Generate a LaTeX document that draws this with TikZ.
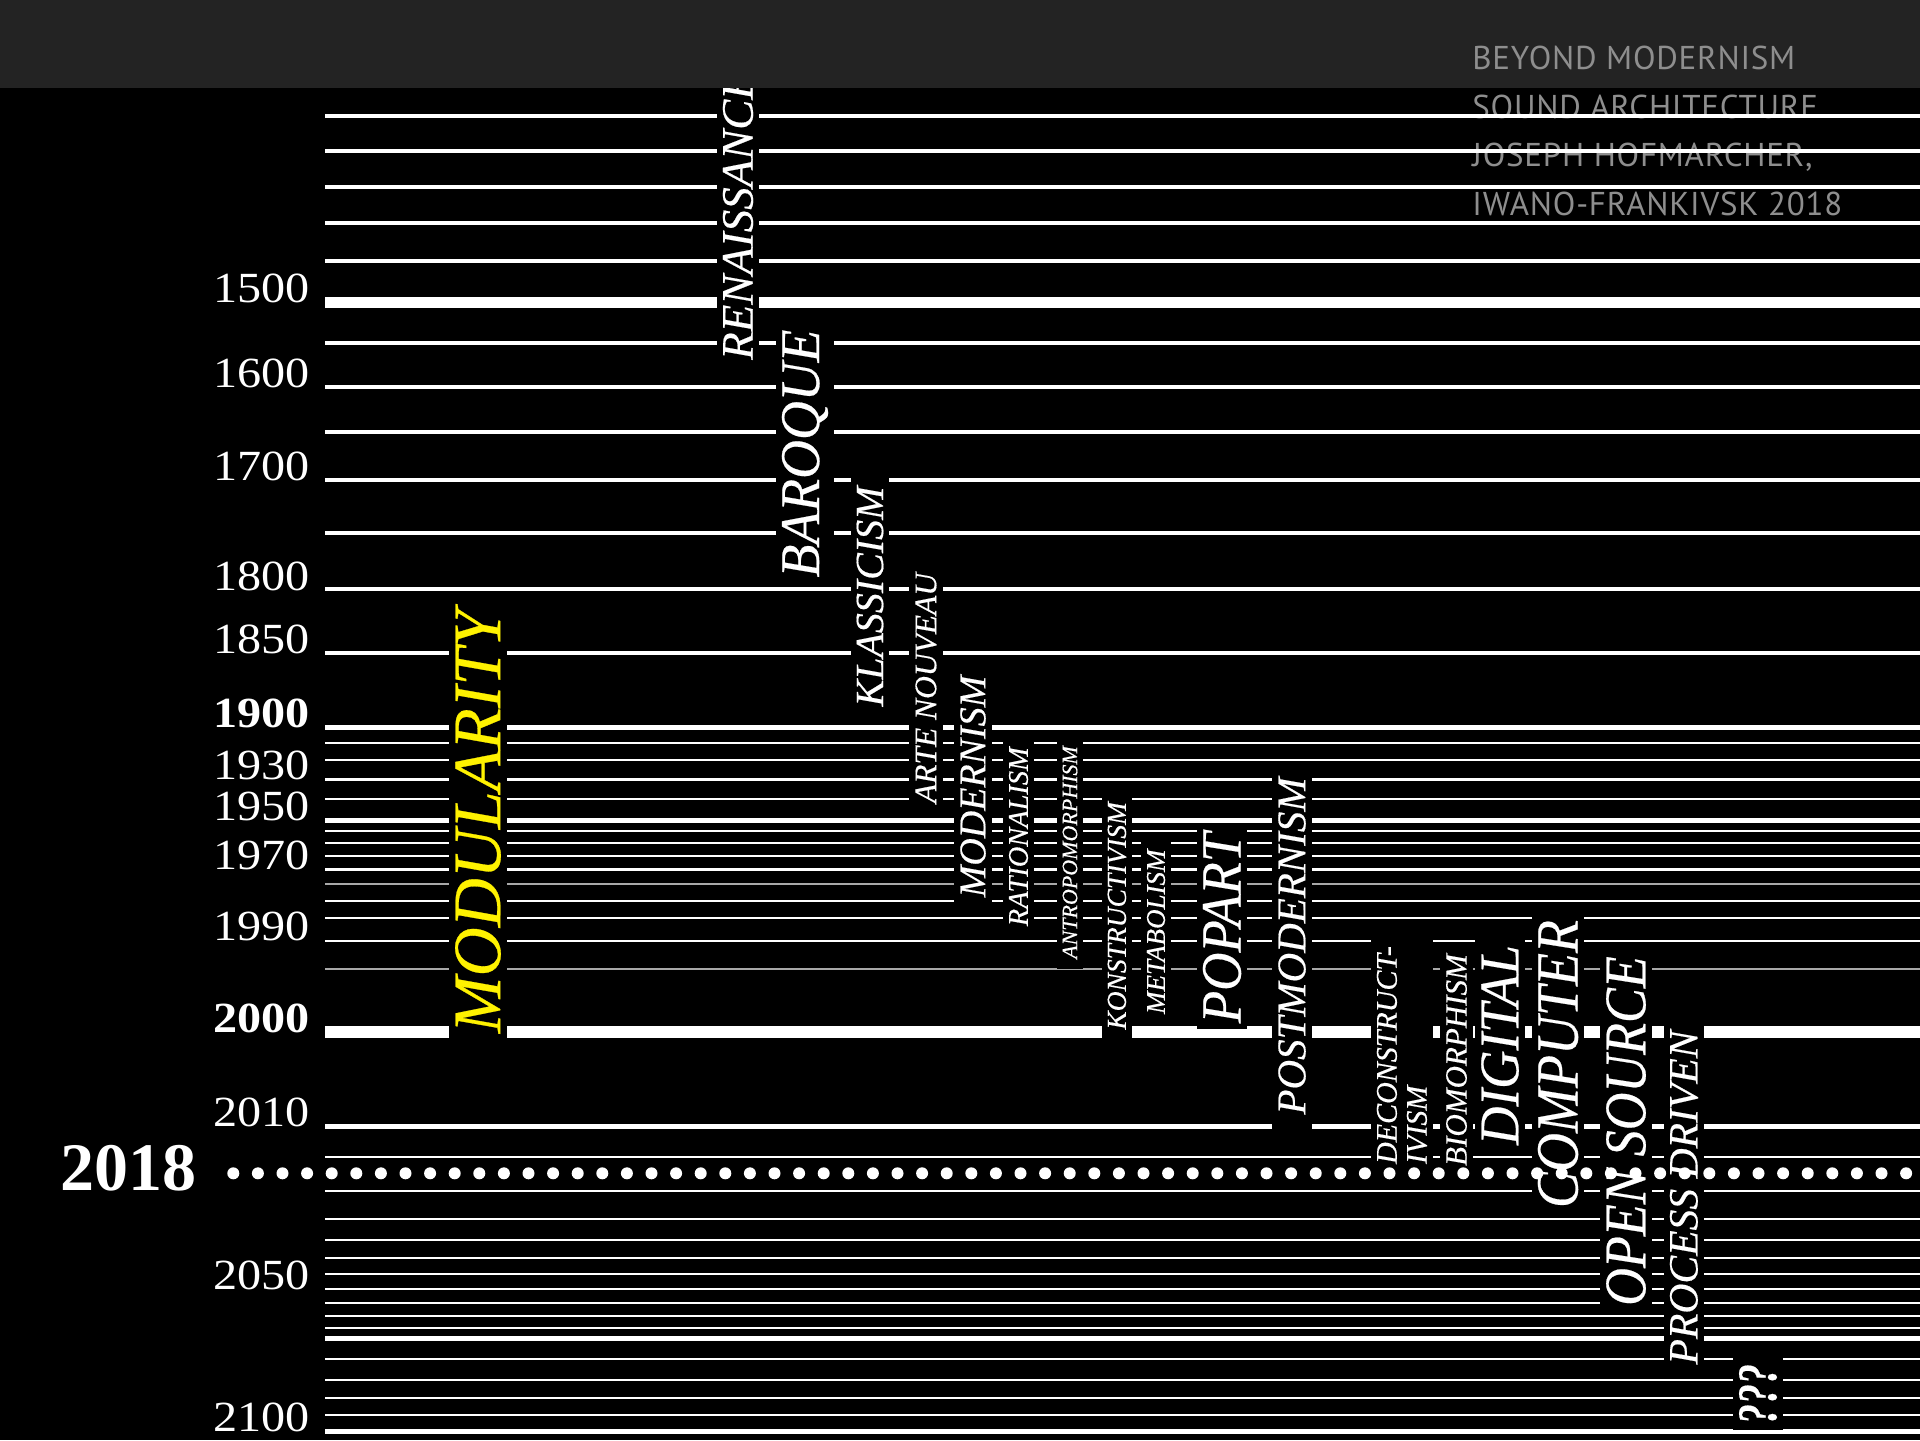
\documentclass[tikz,border=0pt]{standalone}
\usepackage{fontspec}
\setmainfont{Liberation Serif}
\newfontfamily\creditfont[LetterSpace=2.3]{PT Sans}
\newfontfamily\yearfont[FakeStretch=1.12]{Liberation Serif}
\newfontfamily\erafont[FakeBold=0.4]{Liberation Serif}
\usetikzlibrary{positioning}
\usepackage{xcolor}
\definecolor{TopBar}{HTML}{232323}
\definecolor{Credit}{HTML}{8E8E8E}
\definecolor{Highlight}{HTML}{FFF200}
\definecolor{DimLine}{HTML}{A8A8A8}

\begin{document}
\begin{tikzpicture}[x=0.5pt, y=-0.5pt,
    era/.style={rectangle, fill=black, text=white, rotate=90, inner xsep=5pt, inner ysep=3pt, font=\erafont\itshape\fontsize{#1}{#1}\selectfont},
    year/.style={anchor=base east, inner sep=0pt, text=white, font=\yearfont\fontsize{21.5}{21.5}\selectfont},
    bigyear/.style={year, font=\yearfont\bfseries\fontsize{21.5}{21.5}\selectfont},
    credit/.style={anchor=base west, inner sep=0pt, text=Credit, font=\creditfont\fontsize{16.5}{16.5}\selectfont}
]
    \useasboundingbox (0,0) rectangle (1920,1440);
    \fill[black] (0,0) rectangle (1920,1440);

    % Credits
    \node[credit] (sound) at (1472,118) {SOUND ARCHITECTURE};
    \node[credit] (author) at (1472,166) {JOSEPH HOFMARCHER,};
    \node[credit] (place) at (1472,215) {IWANO-FRANKIVSK 2018};

    % Time lines
    \foreach \y/\w/\c in {116/2pt/white, 151/2pt/white, 187/2pt/white, 223/2pt/white, 261/2pt/white,
        302/5.5pt/white, 343/2pt/white, 387/2pt/white, 432/2pt/white, 480/2pt/white, 533/2pt/white,
        589/2pt/white, 653/2pt/white, 727/2.5pt/white, 743/1.2pt/white, 760/1.2pt/white, 779/1.5pt/white,
        799/1.2pt/white, 820/2.5pt/white, 831/1pt/white, 843/1.2pt/white, 856/1pt/white, 869/1.5pt/white,
        884/1pt/DimLine, 901/1pt/white, 918/1.2pt/white, 941/1.2pt/white, 969/1pt/DimLine,
        1032/6pt/white, 1126/2.5pt/white, 1157/1pt/white, 1191/1pt/white, 1219/1.2pt/white,
        1240/1pt/white, 1258/1pt/white, 1274/1pt/white, 1289/1.2pt/white, 1303/1pt/white, 1316/1pt/white,
        1328/1pt/white, 1338.5/2.5pt/white, 1359/1pt/white, 1380/1pt/white, 1397.5/1pt/white,
        1415/1pt/white, 1431.5/2.5pt/white}
        \draw[\c, line width=\w] (325,\y) -- (1920,\y);

    % Years
    \node[year] (y1500) at (310,302) {1500};
    \node[year] (y1600) at (310,387) {1600};
    \node[year] (y1700) at (310,480) {1700};
    \node[year] (y1800) at (310,590) {1800};
    \node[year] (y1850) at (310,653) {1850};
    \node[bigyear] (y1900) at (310,727) {1900};
    \node[year] (y1930) at (310,779) {1930};
    \node[year] (y1950) at (310,820) {1950};
    \node[year] (y1970) at (310,869) {1970};
    \node[year] (y1990) at (310,940) {1990};
    \node[bigyear] (y2000) at (310,1032) {2000};
    \node[year] (y2010) at (310,1126) {2010};
    \node[year] (y2050) at (310,1289) {2050};
    \node[year] (y2100) at (310,1431) {2100};
    \node[anchor=base east, inner sep=0pt, text=white, font=\bfseries\fontsize{34}{34}\selectfont] (now) at (197,1190) {2018};

    % Eras
    \node[era=22.5] (renaissance) at (738,216) {RENAISSANCE};
    \node[era=28] (baroque) at (805,453.5) {\scalebox{0.96}[1]{BAROQUE}};
    \node[era=20] (klassicism) at (870,596.5) {KLASSICISM};
    \node[era=15.75] (artenouveau) at (926,688) {ARTE NOUVEAU};
    \node[era=19] (modernism) at (973,786.5) {MODERNISM};
    \node[era=14.2] (rationalism) at (1018.5,836.7) {RATIONALISM};
    \node[era=11] (antropomorphism) at (1070,852.5) {ANTROPOMORPHISM};
    \node[era=13.75] (konstructivism) at (1117,915.8) {KONSTRUCTIVISM};
    \node[era=13.5] (metabolism) at (1156,931.7) {METABOLISM};
    \node[era=28.5, inner xsep=3pt] (popart) at (1222,928) {\scalebox{0.93}[1]{POPART}};
    \node[era=20.5, inner xsep=8pt] (postmodernism) at (1292,946) {POSTMODERNISM};
    \node[era=15, align=left] (deconstructivism) at (1402,1055) {DECONSTRUCT-\\IVISM};
    \node[era=15.5] (biomorphism) at (1456.5,1060) {BIOMORPHISM};
    \node[era=28] (digital) at (1500,1045) {\scalebox{0.95}[1]{DIGITAL}};
    \node[era=30, inner xsep=4pt] (computer) at (1558,1064) {\scalebox{0.9}[1]{COMPUTER}};
    \node[era=29.5, inner xsep=4pt] (opensource) at (1626,1131) {\scalebox{0.885}[1]{OPEN SOURCE}};
    \node[era=20.8] (processdriven) at (1684,1197.5) {PROCESS DRIVEN};
    \node[era=20, inner xsep=3pt] (unknown) at (1758,1394) {\bfseries\scalebox{1}[1.4]{???}};
    \node[era=34, text=Highlight] (modularity) at (478,821.5) {MODULARITY};

    % Today
    \foreach \i in {0,...,68}
        \fill[white] ({233.3+24.6*\i},1173.3) circle (3pt);

    % Header
    \fill[TopBar] (0,0) rectangle (1920,88);
    \node[credit] (title) at (1472,69.3) {BEYOND MODERNISM};
\end{tikzpicture}
\end{document}
